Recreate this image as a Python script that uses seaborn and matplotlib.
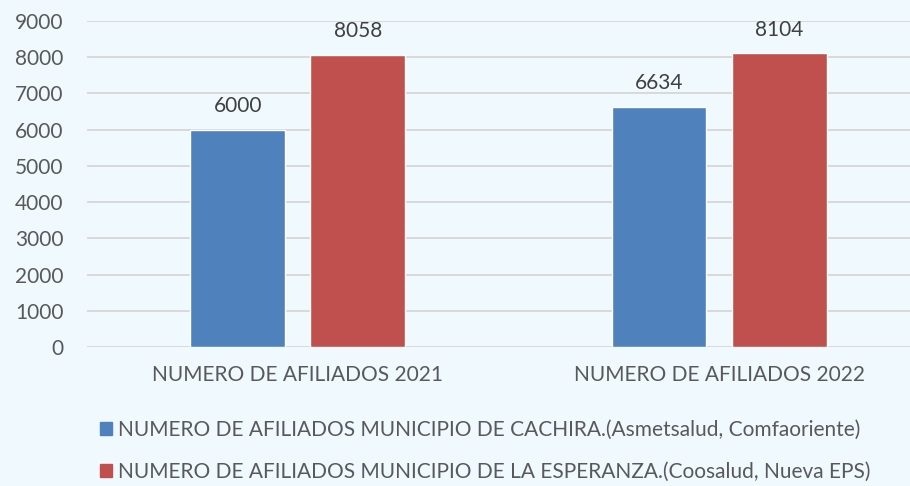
import matplotlib
matplotlib.use("Agg")
import matplotlib.pyplot as plt
import seaborn as sns
import pandas as pd

categories = ["NUMERO DE AFILIADOS 2021", "NUMERO DE AFILIADOS 2022"]
series = [
    "NUMERO DE AFILIADOS MUNICIPIO DE CACHIRA.(Asmetsalud, Comfaoriente)",
    "NUMERO DE AFILIADOS MUNICIPIO DE LA ESPERANZA.(Coosalud, Nueva EPS)",
]
cachira = [6000, 6634]
esperanza = [8058, 8104]
yticks = list(range(0, 9001, 1000))

df = pd.DataFrame({
    "cat": categories * 2,
    "serie": [series[0]] * 2 + [series[1]] * 2,
    "valor": cachira + esperanza,
})

bg = "#EFF9FE"
sns.set_theme(style="white")
plt.rcParams["font.family"] = ["Lato", "DejaVu Sans"]

fig = plt.figure(figsize=(9.1, 4.86), dpi=100, facecolor=bg)
ax = fig.add_axes([87 / 910, (486 - 347) / 486, 823 / 910, 326 / 486])
ax.set_facecolor(bg)

sns.barplot(data=df, x="cat", y="valor", hue="serie", hue_order=series,
            palette=["#4F81BD", "#C0504D"], width=0.57, gap=0.21,
            saturation=1, ax=ax, zorder=3)

for c in ax.containers:
    ax.bar_label(c, padding=10, fontsize=15, color="#404040")

ax.set_ylim(0, 9000)
ax.set_xlim(-0.5, 1.453)
ax.set_yticks(yticks)
ax.yaxis.grid(True, color="#D9D9D9", linewidth=1.4, zorder=0)
ax.set_axisbelow(True)
for s in ax.spines.values():
    s.set_visible(False)
ax.set_xlabel("")
ax.set_ylabel("")
ax.tick_params(axis="y", labelsize=15, labelcolor="#595959", pad=17, length=0)
ax.tick_params(axis="x", labelsize=15, labelcolor="#595959", pad=13, length=0)

ax.get_legend().remove()
handles = [plt.Rectangle((0, 0), 1, 1, color=col) for col in ["#4F81BD", "#C0504D"]]
fig.legend(handles, series, loc="upper left", bbox_to_anchor=(81 / 910, 1 - 401 / 486),
           frameon=False, fontsize=15, labelcolor="#595959", handlelength=0.6,
           handleheight=0.6, handletextpad=0.3, labelspacing=1.05)

fig.savefig("out.png", dpi=100, facecolor=bg)
